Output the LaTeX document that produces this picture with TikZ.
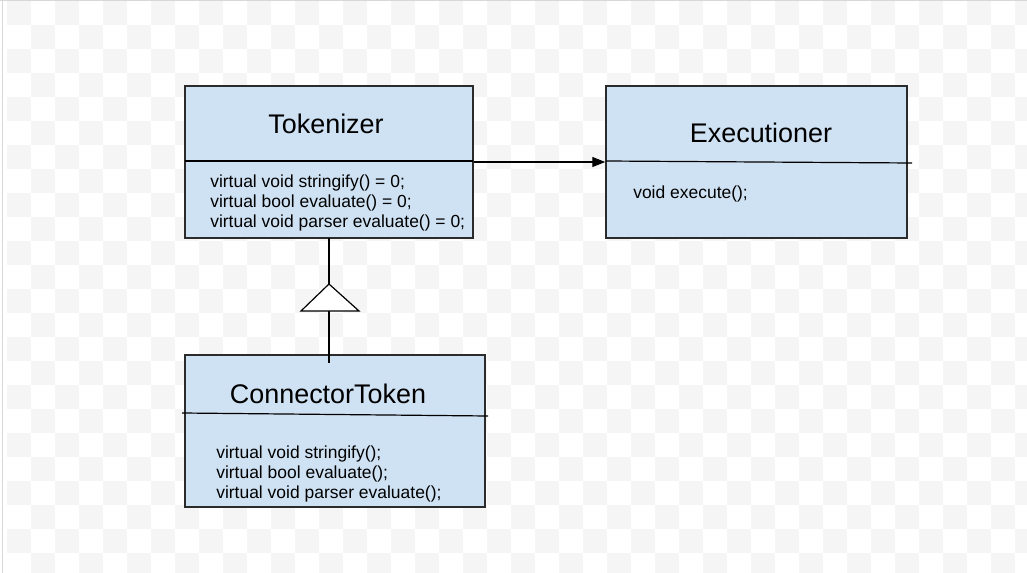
\documentclass[tikz,border=0pt]{standalone}
\usepackage{fontspec}
\setmainfont{Liberation Sans}
\usetikzlibrary{arrows.meta}
\definecolor{boxfill}{HTML}{CFE2F3}
\definecolor{boxline}{HTML}{2B2B2B}
\definecolor{chk}{HTML}{F5F5F5}
\definecolor{frameline}{HTML}{D8D8D8}
\tikzset{
  classbox/.style={draw=boxline, line width=1.1pt, fill=boxfill, inner sep=0pt, minimum height=114pt},
  divider/.style={draw=black, line width=0.9pt},
  title/.style={inner sep=0pt, font=\fontsize{20.2}{24}\selectfont},
  body/.style={inner sep=0pt, anchor=west, align=left, font=\fontsize{13.1}{15}\selectfont},
  assoc/.style={draw=black, line width=0.9pt, -{Triangle[length=9.75pt,width=7.5pt]}},
  inherit/.style={draw=black, line width=0.9pt},
  chksq/.style={fill=chk}
}
\begin{document}
\begin{tikzpicture}[x=0.75pt, y=-0.75pt]
\useasboundingbox (0,0) rectangle (1027,573);
\clip (0,0) rectangle (1027,573);
\fill[white] (0,0) rectangle (1027,573);
\foreach \i in {0,2,...,42} \foreach \j in {0,2,...,22} \fill[chksq] (7+24*\i,1+24*\j) rectangle ++(24,24);
\foreach \i in {1,3,...,41} \foreach \j in {1,3,...,23} \fill[chksq] (7+24*\i,1+24*\j) rectangle ++(24,24);
\draw[frameline, line width=1pt] (0,0.5) -- (1027,0.5);
\draw[frameline, line width=1pt] (2.5,0) -- (2.5,573);

% boxes
\node[classbox, minimum width=216pt] (tok) at (329,162) {};
\node[classbox, minimum width=225.75pt] (exe) at (756.5,162) {};
\node[classbox, minimum width=225pt] (ct) at (335,431) {};

% dividers
\coordinate (tokdl) at (185,161);
\coordinate (tokdr) at (473,161);
\draw[divider] (tokdl) -- (tokdr);
\coordinate (exedl) at (606,161);
\coordinate (exedr) at (912,163);
\draw[divider] (exedl) -- (exedr);
\coordinate (ctdl) at (182,413);
\coordinate (ctdr) at (488,416);
\draw[divider] (ctdl) -- (ctdr);

% titles
\node[title] (toktitle) at (326,124) {Tokenizer};
\node[title] (exetitle) at (761,133) {Executioner};
\node[title] (cttitle) at (328,394) {ConnectorToken};

% bodies
\node[body] (tokbody) at (210,203) {virtual void stringify() = 0;\\virtual bool evaluate() = 0;\\virtual void parser evaluate() = 0;};
\node[body] (exebody) at (633,194) {void execute();};
\node[body] (ctbody) at (216,474) {virtual void stringify();\\virtual bool evaluate();\\virtual void parser evaluate();};

% association arrow
\draw[assoc] (tok.east) -- (exe.west);

% inheritance
\coordinate (inhend) at (329,363);
\coordinate (tokbot) at (329,238);
\draw[inherit] (tokbot) -- (inhend);
\coordinate (triapex) at (329,284);
\coordinate (trir) at (359,311);
\coordinate (tril) at (301,311);
\draw[inherit, fill=white, line join=miter] (triapex) -- (trir) -- (tril) -- cycle;
\end{tikzpicture}
\end{document}
